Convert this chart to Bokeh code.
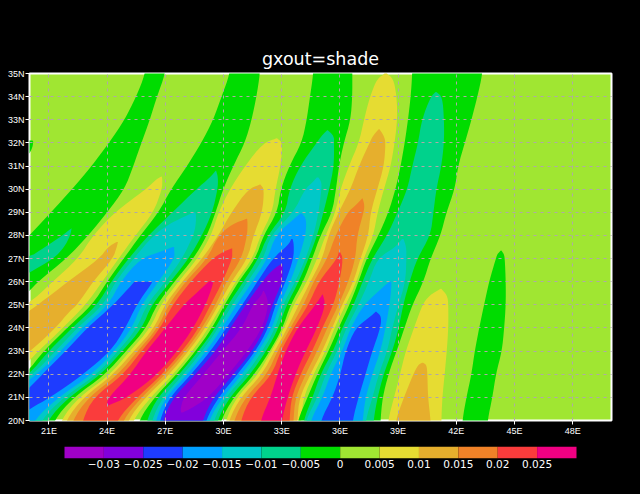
from bokeh.plotting import figure
from bokeh.layouts import column
from bokeh.models import FixedTicker, Title
from bokeh.embed import file_html
from bokeh.resources import INLINE

title_text = "gxout=shade"
lon_ticks = [21, 24, 27, 30, 33, 36, 39, 42, 45, 48]
lat_ticks = list(range(20, 36))
bar_levels = [-0.03, -0.025, -0.02, -0.015, -0.01, -0.005, 0, 0.005, 0.01, 0.015, 0.02, 0.025]
bar_labels = ["\u22120.03", "\u22120.025", "\u22120.02", "\u22120.015", "\u22120.01", "\u22120.005",
              "0", "0.005", "0.01", "0.015", "0.02", "0.025"]

C_A = "#a000c8"; C_B = "#8200dc"; C_C = "#1e3cff"; C_D = "#00a0ff"; C_E = "#00c8c8"; C_F = "#00d28c"
C_G = "#00dc00"; C_H = "#a0e632"; C_I = "#e6dc32"; C_J = "#e6af2d"; C_K = "#f08228"; C_L = "#fa3c3c"; C_M = "#f00082"
bar_colors = [C_A, C_B, C_C, C_D, C_E, C_F, C_G, C_H, C_I, C_J, C_K, C_L, C_M]

# every region: rows of (latitude, western edge lon, eastern edge lon)
n1_green = [(25,15,19.3),(25.6,15,20.0),(26,15,20.43),(27,18.8,21.9),(28,20,23.04),(29,21.1,24.0),(30,22.2,24.9),(31,23.2,25.35),(32,24.1,25.77),(33,24.9,26.2),(34,25.5,26.57),(35,25.97,27.0)]
n1_teal = [(26,15,19.2),(26.4,15,20),(27,19.9,21.25),(27.5,20.8,21.8),(28,21.7,22.1),(28.3,22.15,22.17)]
n0_green = [(31.55,19,20.0),(31.8,19,20.15),(32.07,19,20.2),(32.1,19,20.15)]
p1_yellow = [(22,15,19.3),(22.6,15,20),(23,15,20.46),(24,17.5,21.72),(25,19.9,22.89),(26,21.2,23.75),(27,22.5,24.59),(28,23.28,25.46),(29,24.38,26.39),(30,26,26.83),(30.4,26.5,26.85),(30.55,26.8,26.82)]
p1_gold = [(22.5,15,19.2),(23,15,20.05),(24,18.8,21.34),(24.75,20,22.1),(25,20.43,22.46),(26,21.98,23.27),(27,23.6,24.3),(27.5,24.05,24.5),(27.72,24.5,24.56)]

n2_green = [(20,15,21.24),(21,18,22.27),(22,19.8,23.92),(23,20.72,24.98),(24,21.94,26.03),(25,23.23,26.55),(26,24.0,27.47),(27,24.85,28.45),(28,25.72,29.16),(29,26.65,29.59),(30,27.3,29.98),(31,28.12,30.5),(32,28.86,31.1),(33,29.47,31.45),(34,29.9,31.7),(35,30.33,31.88)]
n2_teal = [(20,15,20.91),(21,18.3,22.01),(22,20,23.7),(23,20.98,24.78),(24,22.2,25.81),(25,23.49,26.29),(26,24.21,27.27),(27,25.1,28.2),(28,26.13,28.9),(29,27.36,29.42),(30,28.6,29.7),(30.5,29.3,29.72),(30.8,29.6,29.62)]
n2_cyan = [(20,15,20.57),(21,18.5,21.75),(22,20.2,23.49),(23,21.34,24.57),(24,22.46,25.55),(25,23.81,26.03),(26,24.43,27.01),(27,25.36,27.87),(28,26.39,28.45),(28.5,27.2,28.58),(28.9,28.2,28.58),(29,28.5,28.55)]
n2_blue = [(20,15,20.2),(21,18.7,21.49),(22,20.41,23.23),(23,21.6,24.38),(24,22.72,25.29),(25,24.07,25.77),(26,24.69,26.65),(27,25.72,27.47),(27.3,26.75,27.47),(27.5,27.4,27.45)]
n2_dark = [(20,15,19.2),(20.5,15,20),(21,19.5,21.08),(22,20.67,22.78),(23,21.86,24.18),(24,22.97,24.95),(25,24.33,25.52),(25.95,25.36,26.32),(26,25.4,26.3)]

p2_yellow = [(20,21.6,25.31),(21,22.53,26.24),(22,24.18,27.41),(23,25.17,28.39),(24,26.24,29.23),(25,26.75,29.93),(26,27.68,30.62),(27,28.66,31.5),(28,29.37,31.91),(29,29.74,32.51),(30,30.33,32.68),(31,31.1,32.94),(32,32.05,33.05),(32.2,32.74,32.76)]
p2_gold = [(20,21.86,25.05),(21,22.78,25.98),(22,24.33,27.22),(23,25.38,28.2),(24,26.44,29.07),(25,26.96,29.74),(26,27.87,30.41),(27,28.9,31.24),(28,29.74,31.55),(29,30.4,32),(30,31.27,32.1),(30.2,31.88,31.9)]
p2_orange = [(20,22.2,24.79),(21,23.04,25.77),(22,24.59,27.01),(23,25.57,28.04),(24,26.61,28.9),(25,27.16,29.59),(26,28.04,30.15),(27,29.16,30.93),(28,29.74,31.22),(28.5,30.46,31.24),(28.72,31.2,31.22)]
p2_red = [(20,22.72,24.48),(21,23.3,25.55),(22,24.85,26.84),(23,25.77,27.87),(24,26.75,28.73),(25,27.37,29.33),(26,28.3,29.95),(27,29.42,30.45),(27.3,30.0,30.45),(27.43,30.4,30.45)]
p2_magenta = [(20.65,23.97,24.05),(21,24.07,25.05),(22,25.21,26.6),(23,26.02,27.61),(24,27.01,28.45),(25,27.94,29.07),(25.5,28.6,29.3),(25.95,29.16,29.48),(26.02,29.3,29.4)]

n3_green = [(20,25.62,29.85),(21,26.44,30.52),(22,27.58,31.6),(23,28.56,32.39),(24,29.42,33.05),(25,30.05,33.45),(26,30.77,34.11),(27,31.65,34.57),(28,32.06,35),(29,32.77,35.6),(30,32.95,35.8),(31,33.39,35.95),(32,34.03,36.2),(33,34.29,36.55),(34,34.46,36.64),(35,34.63,36.64)]
n3_teal = [(20,26.03,29.67),(21,26.6,30.31),(22,27.73,31.39),(23,28.71,32.2),(24,29.59,32.84),(25,30.22,33.25),(26,31.03,33.88),(27,31.8,34.38),(28,32.27,34.83),(29,33.2,35.15),(30,33.4,35.45),(31,33.94,35.69),(32,34.8,35.7),(32.3,35.05,35.69),(32.55,35.35,35.37)]
n3_cyan = [(20,26.29,29.48),(21,26.86,30.1),(22,27.94,31.17),(23,28.9,32),(24,29.74,32.68),(25,30.45,33.04),(26,31.24,33.71),(27,32.06,34.23),(28,32.42,34.64),(29,33.61,34.9),(30,34.2,35.05),(30.3,34.6,35.05),(30.5,34.8,34.9)]
n3_blue = [(20,26.49,29.23),(21,27.01,29.95),(22,28.14,30.96),(23,29.11,31.8),(24,29.93,32.51),(25,30.67,32.89),(26,31.49,33.45),(27,32.27,33.87),(28,32.68,34.23),(28.7,33.6,34.28),(28.95,33.97,34.05)]
n3_dark = [(20,26.7,29.07),(21,27.22,29.74),(22,28.34,30.72),(23,29.33,31.65),(24,30.15,32.32),(25,30.96,32.68),(26,31.75,33.2),(27,32.53,33.61),(27.6,33.35,33.63),(27.85,33.5,33.56)]
n3_violet = [(20,26.86,28.9),(21,27.42,29.48),(22,28.56,30.52),(23,29.59,31.48),(24,30.36,32.16),(25,31.13,32.51),(26,32,33.03),(26.5,32.5,33.05),(26.78,33.0,33.04)]
n3_purple = [(20.35,27.82,27.9),(20.5,27.78,28.3),(21,27.94,29.23),(22,28.97,30.26),(23,29.93,31.22),(24,30.96,32),(25,31.5,32.33),(25.4,31.95,32.2),(25.6,32.04,32.08)]

p3_yellow = [(20,30.1,34.0),(21,30.67,34.12),(22,31.8,34.64),(23,32.47,35.26),(24,33.14,35.72),(25,33.61,36.29),(26,34.31,36.86),(27,34.83,37.22),(28,35.26,37.73),(29,35.77,37.94),(30,36.03,38.27),(31,36.46,38.62),(32,36.98,38.82),(33,37.24,38.96),(34,37.55,38.93),(34.8,37.93,38.75),(35,38.36,38.37)]
p3_gold = [(20,30.26,33.8),(21,30.88,33.92),(22,31.99,34.48),(23,32.63,35.09),(24,33.3,35.6),(25,33.87,36.12),(26,34.48,36.7),(27,35.09,37.06),(28,35.41,37.47),(29,35.93,37.58),(30,36.55,37.93),(31,36.98,38.27),(32,37.53,38.36),(32.3,37.7,38.27),(32.6,38.01,38.03)]
p3_orange = [(20,30.52,33.6),(21,31.13,33.71),(22,32.25,34.23),(23,32.78,34.83),(24,33.45,35.35),(25,34.12,35.93),(26,34.64,36.44),(27,35.35,36.8),(28,35.77,36.89),(29,36.39,37.22),(29.3,36.81,37.27),(29.6,37.15,37.17)]
p3_red = [(20,30.88,33.4),(21,31.39,33.5),(22,32.51,33.97),(23,32.94,34.57),(24,33.61,35.09),(25,34.38,35.67),(26,34.9,35.98),(27,35.86,36.17),(27.3,35.95,36.0)]
p3_magenta = [(20,31.9,33.0),(21,32.42,33.3),(22,32.78,33.71),(23,33.2,34.23),(24,33.81,34.83),(25,34.74,35.26),(25.45,35.1,35.12)]

n4_green = [(20,33.82,38.09),(21,34.33,38.2),(22,34.83,38.5),(23,35.41,38.92),(24,35.93,39.33),(25,36.49,39.73),(26,36.96,40.31),(27,37.37,40.67),(28,37.99,41.19),(29,38.5,41.49),(30,38.87,41.92),(31,39.13,42.09),(32,39.34,42.44),(33,39.51,42.78),(34,39.65,43.09),(35,39.73,43.35)]
n4_teal = [(20,34.12,37.73),(21,34.59,37.94),(22,35,38.25),(23,35.65,38.7),(24,36.12,39.04),(25,36.7,39.26),(26,37.17,39.59),(27,37.66,39.98),(28,38.44,40.67),(29,38.97,40.82),(30,39.48,40.97),(31,39.73,41.23),(32,40.03,41.37),(33,40.22,41.37),(34,40.68,41.28),(34.2,40.94,40.96)]
n4_cyan = [(20,34.23,37.32),(21,34.85,37.68),(22,35.26,38),(23,35.86,38.44),(24,36.34,38.7),(25,36.96,39.02),(26,37.5,39.38),(27,37.92,39.43),(27.5,38.87,39.42),(27.85,39.2,39.28)]
n4_blue = [(20,34.48,37.17),(21,35.1,37.32),(22,35.52,37.67),(23,36.12,38.09),(24,36.55,38.35),(25,37.22,38.56),(25.8,38.27,38.66),(26,38.55,38.65)]
n4_dark = [(20,35,36.65),(21,35.62,36.96),(22,36.03,37.32),(23,36.29,37.67),(24,36.8,38.09),(24.5,37.58,38.14),(24.7,37.84,37.88)]

p4_yellow = [(20,38.48,41.23),(21,38.79,41.28),(22,39.1,41.4),(23,39.39,41.51),(24,39.82,41.59),(25,40.25,41.59),(25.4,40.6,41.54),(25.7,41.2,41.22)]
p4_gold = [(20,38.87,40.68),(21,39.3,40.54),(22,39.78,40.51),(22.4,40.03,40.47),(22.5,40.25,40.27)]
n5_green = [(20,42.31,43.61),(21,42.52,43.86),(22,42.78,44.04),(23,42.95,44.35),(24,43.18,44.47),(25,43.43,44.55),(26,43.69,44.55),(27,44.04,44.5),(27.2,44.12,44.45),(27.35,44.3,44.32)]

regions = [
    (n1_green, C_G), (n1_teal, C_F), (n0_green, C_G), (p1_yellow, C_I), (p1_gold, C_J),
    (n2_green, C_G), (n2_teal, C_F), (n2_cyan, C_E), (n2_blue, C_D), (n2_dark, C_C),
    (p2_yellow, C_I), (p2_gold, C_J), (p2_orange, C_K), (p2_red, C_L), (p2_magenta, C_M),
    (n3_green, C_G), (n3_teal, C_F), (n3_cyan, C_E), (n3_blue, C_D), (n3_dark, C_C), (n3_violet, C_B), (n3_purple, C_A),
    (p3_yellow, C_I), (p3_gold, C_J), (p3_orange, C_K), (p3_red, C_L), (p3_magenta, C_M),
    (n4_green, C_G), (n4_teal, C_F), (n4_cyan, C_E), (n4_blue, C_D), (n4_dark, C_C),
    (p4_yellow, C_I), (p4_gold, C_J), (n5_green, C_G),
]


def rounded(points, passes=2):
    # corner cutting so that the outline read at whole degrees does not show kinks
    for _ in range(passes):
        out = [points[0]]
        for (ax, ay), (bx, by) in zip(points[:-1], points[1:]):
            out.append((0.75 * ax + 0.25 * bx, 0.75 * ay + 0.25 * by))
            out.append((0.25 * ax + 0.75 * bx, 0.25 * ay + 0.75 * by))
        out.append(points[-1])
        points = out
    return points


def outline(rows):
    rows = list(rows)
    if rows[0][0] == 20:
        rows.insert(0, (19.5, rows[0][1], rows[0][2]))
    if rows[-1][0] == 35:
        rows.append((35.5, rows[-1][1], rows[-1][2]))
    west = rounded([(r[1], r[0]) for r in rows])
    east = rounded([(r[2], r[0]) for r in rows])
    pts = west + east[::-1]
    return [a for a, _ in pts], [b for _, b in pts]


p = figure(width=640, height=446, x_range=(20, 50), y_range=(20, 35),
           output_backend="svg", toolbar_location=None,
           min_border_left=29, min_border_right=29, min_border_top=73, min_border_bottom=26,
           background_fill_color=C_H, border_fill_color="#000000")
for rows, colour in regions:
    xs, ys = outline(rows)
    p.patch(xs, ys, fill_color=colour, line_color=None)

p.outline_line_color = "#ffffff"
p.outline_line_width = 2
p.xaxis.ticker = FixedTicker(ticks=lon_ticks)
p.yaxis.ticker = FixedTicker(ticks=lat_ticks)
p.xaxis.major_label_overrides = {t: f"{t}E" for t in lon_ticks}
p.yaxis.major_label_overrides = {t: f"{t}N" for t in lat_ticks}
for ax in (p.xaxis[0], p.yaxis[0]):
    ax.axis_line_color = None
    ax.major_tick_line_color = "#ffffff"
    ax.major_tick_in = 0
    ax.major_tick_out = 4
    ax.minor_tick_line_color = None
    ax.major_label_text_color = "#ffffff"
    ax.major_label_text_font = "Liberation Sans"
    ax.major_label_text_font_size = "9px"
    ax.major_label_standoff = 1
p.yaxis.major_label_orientation = "horizontal"
for g in (p.xgrid[0], p.ygrid[0]):
    g.grid_line_color = "#b0a8a8"
    g.grid_line_dash = "3 4"
    g.grid_line_width = 1
    g.level = "overlay"
p.xgrid.ticker = FixedTicker(ticks=lon_ticks)
p.ygrid.ticker = FixedTicker(ticks=lat_ticks[1:-1])

p.add_layout(Title(text=title_text, align="center", text_color="#ffffff", text_font="DejaVu Sans",
                   text_font_size="17.5px", text_font_style="normal", standoff=10), "above")

# colour bar: 12 px strip under the main panel, its boxes inset from the panel's edges
edges = [bar_levels[0] - 0.005] + bar_levels + [bar_levels[-1] + 0.005]
inset = 35 * (edges[-1] - edges[0]) / 512
q = figure(width=640, height=48, x_range=(edges[0] - inset, edges[-1] + inset), y_range=(0, 1),
           output_backend="svg", toolbar_location=None,
           min_border_left=29, min_border_right=29, min_border_top=0, min_border_bottom=36,
           background_fill_color="#000000", border_fill_color="#000000")
q.outline_line_color = None
q.quad(left=edges[:-1], right=edges[1:], bottom=0, top=1, fill_color=bar_colors, line_color=None)
q.grid.visible = False
q.yaxis.visible = False
q.xaxis.ticker = FixedTicker(ticks=bar_levels)
q.xaxis.major_label_overrides = dict(zip(bar_levels, bar_labels))
q.xaxis.axis_line_color = None
q.xaxis.major_tick_line_color = None
q.xaxis.major_tick_out = 0
q.xaxis.major_tick_in = 0
q.xaxis.minor_tick_line_color = None
q.xaxis.major_label_text_color = "#ffffff"
q.xaxis.major_label_text_font = "DejaVu Sans"
q.xaxis.major_label_text_font_size = "10.5px"
q.xaxis.major_label_standoff = 1

page = column(p, q, spacing=0)
html = file_html(page, INLINE)
html = html.replace("</head>", "<style>html,body{background:#000000}</style></head>", 1)
open("out.html", "w").write(html)
